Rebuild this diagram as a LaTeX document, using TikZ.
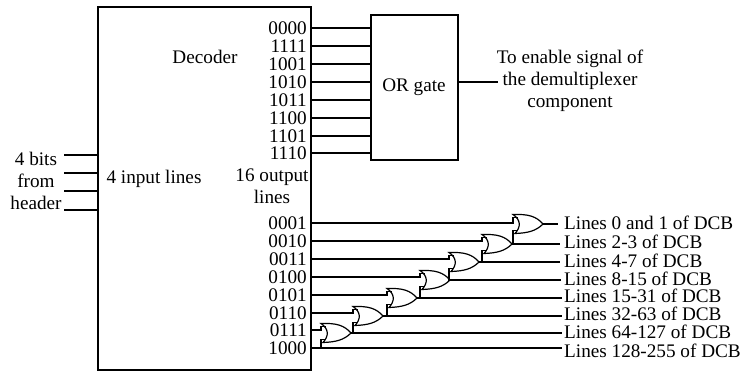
\documentclass[tikz,border=0pt]{standalone}
\usepackage{fontspec}
\setmainfont{Liberation Serif}
\usetikzlibrary{calc,positioning}
\tikzset{
  box/.style={draw,line width=1.5pt,inner sep=0pt},
  code/.style={anchor=east,inner sep=0pt},
  linelabel/.style={anchor=west,inner sep=0pt},
  wire/.style={line width=1.25pt},
  orsym/.pic={
    \draw[line width=1.2pt] (-15,-9.5) .. controls (0,-10) and (8,-8) .. (15,0)
      .. controls (8,7) and (0,9) .. (-13,9.5) .. controls (-7,3) and (-7,-4) .. (-15,-9.5) -- cycle;
    \coordinate (-st1) at (-15,-6.5);
    \coordinate (-in1) at (-10.5,-6.5);
    \coordinate (-st2) at (-15,6.5);
    \coordinate (-in2) at (-10.5,6.5);
    \coordinate (-out) at (15,0);
  }
}
\begin{document}
\begin{tikzpicture}[x=1pt,y=-1pt,font=\fontsize{19.2}{22}\selectfont]
  \useasboundingbox (0,0) rectangle (741,373);
  \node[box,minimum width=213pt,minimum height=363pt] (dec) at (204.5,188.5) {};
  \node[box,minimum width=87pt,minimum height=145pt] (orgate) at (414.5,87.5) {};
  \node (orlabel) at (414,87) {OR gate};
  \node (declabel) at (205,57) {Decoder};
  \node[inner sep=0pt] (inlabel) at (154,179) {4 input lines};
  \node[inner sep=0pt,align=center] (outlabel) at (272,186) {16 output\\lines};
  \node[inner sep=0pt,align=center] (header) at (36,181) {4 bits\\from\\header};
  \node[inner sep=0pt,align=center] (enable) at (570,81) {To enable signal of\\the demultiplexer\\component};
  % upper outputs
  \node[code] (c0000) at (307,28) {0000};
  \node[code] (c1111) at (307,46) {1111};
  \node[code] (c1001) at (307,64) {1001};
  \node[code] (c1010) at (307,82) {1010};
  \node[code] (c1011) at (307,100) {1011};
  \node[code] (c1100) at (307,118) {1100};
  \node[code] (c1101) at (307,136) {1101};
  \node[code] (c1110) at (307,153) {1110};
  % lower outputs
  \node[code] (c0001) at (307,223) {0001};
  \node[code] (c0010) at (307,241) {0010};
  \node[code] (c0011) at (307,259) {0011};
  \node[code] (c0100) at (307,277) {0100};
  \node[code] (c0101) at (307,295) {0101};
  \node[code] (c0110) at (307,313) {0110};
  \node[code] (c0111) at (307,330) {0111};
  \node[code] (c1000) at (307,348) {1000};
  % gates
  \pic (g1) at (528,224) {orsym};
  \pic (g2) at (497,244) {orsym};
  \pic (g3) at (464,262) {orsym};
  \pic (g4) at (435,280) {orsym};
  \pic (g5) at (402,298) {orsym};
  \pic (g6) at (368,316) {orsym};
  \pic (g7) at (336,333) {orsym};
  % line labels
  \node[linelabel] (l1) at (564,223) {Lines 0 and 1 of DCB};
  \node[linelabel] (l2) at (564,242) {Lines 2-3 of DCB};
  \node[linelabel] (l3) at (564,261) {Lines 4-7 of DCB};
  \node[linelabel] (l4) at (564,279) {Lines 8-15 of DCB};
  \node[linelabel] (l5) at (564,296) {Lines 15-31 of DCB};
  \node[linelabel] (l6) at (564,314) {Lines 32-63 of DCB};
  \node[linelabel] (l7) at (564,332) {Lines 64-127 of DCB};
  \node[linelabel] (l8) at (564,351) {Lines 128-255 of DCB};
  % free ends
  \coordinate (in1) at (64,155);
  \coordinate (in2) at (64,173);
  \coordinate (in3) at (64,191);
  \coordinate (in4) at (64,210);
  \coordinate (orout) at (498,82);
  \coordinate (e1) at (558,224);
  \coordinate (e2) at (560,244);
  \coordinate (e3) at (560,262);
  \coordinate (e4) at (561,280);
  \coordinate (e5) at (562,298);
  \coordinate (e6) at (562,316);
  \coordinate (e7) at (562,333);
  \coordinate (e8) at (562,348);
  % decoder wires
  \draw[wire] (in1) -- (in1 -| dec.west);
  \draw[wire] (in2) -- (in2 -| dec.west);
  \draw[wire] (in3) -- (in3 -| dec.west);
  \draw[wire] (in4) -- (in4 -| dec.west);
  \draw[wire] (dec.east |- c0000) -- (orgate.west |- c0000);
  \draw[wire] (dec.east |- c1111) -- (orgate.west |- c1111);
  \draw[wire] (dec.east |- c1001) -- (orgate.west |- c1001);
  \draw[wire] (dec.east |- c1010) -- (orgate.west |- c1010);
  \draw[wire] (dec.east |- c1011) -- (orgate.west |- c1011);
  \draw[wire] (dec.east |- c1100) -- (orgate.west |- c1100);
  \draw[wire] (dec.east |- c1101) -- (orgate.west |- c1101);
  \draw[wire] (dec.east |- c1110) -- (orgate.west |- c1110);
  \draw[wire,line width=1.8pt] (orgate.east |- orout) -- (orout);
  % gate wires
  \draw[wire] (dec.east |- c0001) -| (g1-st1) -- (g1-in1);
  \draw[wire] (dec.east |- c0010) -| (g2-st1) -- (g2-in1);
  \draw[wire] (dec.east |- c0011) -| (g3-st1) -- (g3-in1);
  \draw[wire] (dec.east |- c0100) -| (g4-st1) -- (g4-in1);
  \draw[wire] (dec.east |- c0101) -| (g5-st1) -- (g5-in1);
  \draw[wire] (dec.east |- c0110) -| (g6-st1) -- (g6-in1);
  \draw[wire] (dec.east |- c0111) -| (g7-st1) -- (g7-in1);
  \draw[wire] (g1-in2) -- (g1-st2) |- (g2-out);
  \draw[wire] (g2-in2) -- (g2-st2) |- (g3-out);
  \draw[wire] (g3-in2) -- (g3-st2) |- (g4-out);
  \draw[wire] (g4-in2) -- (g4-st2) |- (g5-out);
  \draw[wire] (g5-in2) -- (g5-st2) |- (g6-out);
  \draw[wire] (g6-in2) -- (g6-st2) |- (g7-out);
  \draw[wire] (g7-in2) -- (g7-st2) |- (e8);
  \draw[wire] (dec.east |- e8) -- (e8);
  \draw[wire] (g1-out) -- (e1);
  \draw[wire] (g2-out) -- (e2);
  \draw[wire] (g3-out) -- (e3);
  \draw[wire] (g4-out) -- (e4);
  \draw[wire] (g5-out) -- (e5);
  \draw[wire] (g6-out) -- (e6);
  \draw[wire] (g7-out) -- (e7);
\end{tikzpicture}
\end{document}
